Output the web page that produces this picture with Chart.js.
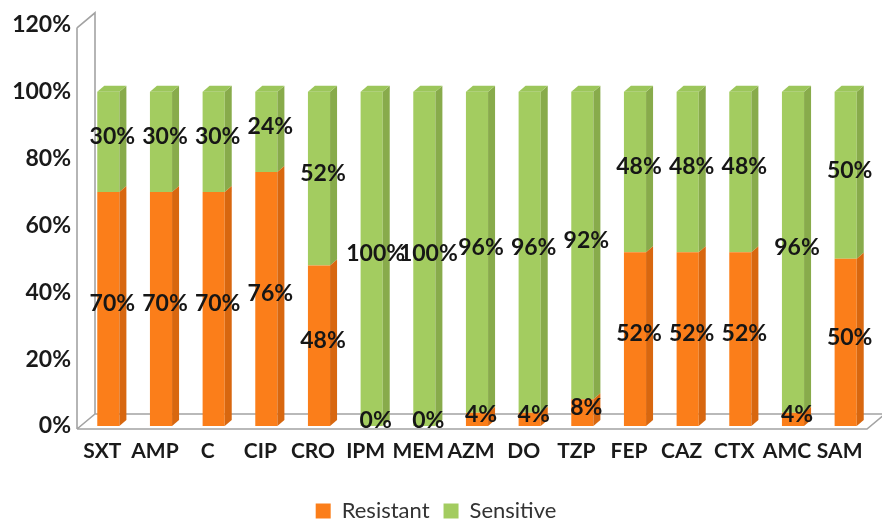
<!DOCTYPE html>
<html>
<head>
<meta charset="utf-8">
<script src="https://cdn.jsdelivr.net/npm/chart.js@4.4.1/dist/chart.umd.min.js"></script>
<style>
html,body{margin:0;padding:0;background:#fff;}
#wrap{width:882px;height:524px;}
</style>
</head>
<body>
<div id="wrap"><canvas id="c" width="882" height="524"></canvas></div>
<script>
const categories = ['SXT','AMP','C','CIP','CRO','IPM','MEM','AZM','DO','TZP','FEP','CAZ','CTX','AMC','SAM'];
const resistant = [70,70,70,76,48,0,0,4,4,8,52,52,52,4,50];
const sensitive = [30,30,30,24,52,100,100,96,96,92,48,48,48,96,50];
const yMin = 0, yMax = 120, yStep = 20;

const FONT = 'Lato';
const DEPTH_X = 7, DEPTH_Y = -6;
const sideColors = ['#d8670f', '#88ab4b'];
const topColors = ['#f08a30', '#9cc65b'];

const frame3d = {
  id: 'frame3d',
  beforeDatasetsDraw(chart) {
    const ctx = chart.ctx, a = chart.chartArea, ys = chart.scales.y;
    const fx = a.left - 5, fy = a.bottom + 3, dx = 18, dy = -15;
    const ty = ys.getPixelForValue(yMax) + 3;
    const rx = a.right - 5;
    ctx.save();
    ctx.strokeStyle = '#a3a3a3';
    ctx.lineWidth = 1.6;
    ctx.beginPath();
    ctx.moveTo(fx, ty); ctx.lineTo(fx, fy);
    ctx.moveTo(fx, ty); ctx.lineTo(fx + dx, ty + dy);
    ctx.lineTo(fx + dx, fy + dy);
    ctx.moveTo(fx, fy); ctx.lineTo(fx + dx, fy + dy);
    ctx.lineTo(rx + dx, fy + dy);
    ctx.moveTo(fx, fy); ctx.lineTo(rx, fy); ctx.lineTo(rx + dx, fy + dy);
    ctx.stroke();
    ctx.restore();
  },
  afterDatasetDraw(chart, args) {
    const ctx = chart.ctx, i = args.index;
    const meta = chart.getDatasetMeta(i);
    ctx.save();
    meta.data.forEach((bar, k) => {
      const p = bar.getProps(['x','y','base','width'], true);
      const xr = p.x + p.width / 2, xl = p.x - p.width / 2;
      const top = Math.min(p.y, p.base), bot = Math.max(p.y, p.base);
      if (bot - top < 0.01) return;
      ctx.fillStyle = sideColors[i];
      ctx.beginPath();
      ctx.moveTo(xr, top); ctx.lineTo(xr + DEPTH_X, top + DEPTH_Y);
      ctx.lineTo(xr + DEPTH_X, bot + DEPTH_Y); ctx.lineTo(xr, bot);
      ctx.closePath(); ctx.fill();
      if (i === chart.data.datasets.length - 1) {
        ctx.fillStyle = topColors[i];
        ctx.beginPath();
        ctx.moveTo(xl, top); ctx.lineTo(xl + DEPTH_X, top + DEPTH_Y);
        ctx.lineTo(xr + DEPTH_X, top + DEPTH_Y); ctx.lineTo(xr, top);
        ctx.closePath(); ctx.fill();
      }
    });
    ctx.restore();
  },
  afterDatasetsDraw(chart) {
    const ctx = chart.ctx;
    ctx.save();
    ctx.font = 'bold 23px ' + FONT;
    ctx.fillStyle = '#161616';
    ctx.textAlign = 'center';
    ctx.textBaseline = 'middle';
    chart.data.datasets.forEach((ds, i) => {
      const meta = chart.getDatasetMeta(i);
      meta.data.forEach((bar, k) => {
        const p = bar.getProps(['x','y','base'], true);
        ctx.fillText(ds.data[k] + '%', p.x + 4, (p.y + p.base) / 2 - 5);
      });
    });
    ctx.restore();
  }
};

new Chart(document.getElementById('c'), {
  type: 'bar',
  data: {
    labels: categories,
    datasets: [
      { label: 'Resistant', data: resistant, backgroundColor: '#fb7e1a', borderWidth: 0 },
      { label: 'Sensitive', data: sensitive, backgroundColor: '#a3cc60', borderWidth: 0 }
    ]
  },
  options: {
    responsive: false,
    animation: false,
    devicePixelRatio: 1,
    categoryPercentage: 1,
    barPercentage: 0.42,
    layout: { padding: { left: 0, right: 10, top: 19, bottom: -8 } },
    plugins: {
      legend: {
        position: 'bottom',
        labels: {
          font: { family: FONT, size: 22 },
          color: '#333',
          boxWidth: 15, boxHeight: 15, padding: 14
        }
      },
      tooltip: { enabled: false }
    },
    scales: {
      x: {
        stacked: true,
        grid: { display: false, drawTicks: false },
        border: { display: false },
        ticks: {
          font: { family: FONT, size: 21, weight: 'bold' }, color: '#1a1a1a',
          padding: 13, labelOffset: -6, autoSkip: false, maxRotation: 0
        },
        afterFit(s) { s.height = 60; }
      },
      y: {
        stacked: true, min: yMin, max: yMax,
        grid: { display: false, drawTicks: false },
        border: { display: false },
        ticks: {
          stepSize: yStep,
          font: { family: FONT, size: 23, weight: 'bold' }, color: '#1a1a1a',
          padding: 11,
          callback: v => v + '%'
        },
        afterFit(s) { s.width = 82; }
      }
    }
  },
  plugins: [frame3d]
});
</script>
</body>
</html>
